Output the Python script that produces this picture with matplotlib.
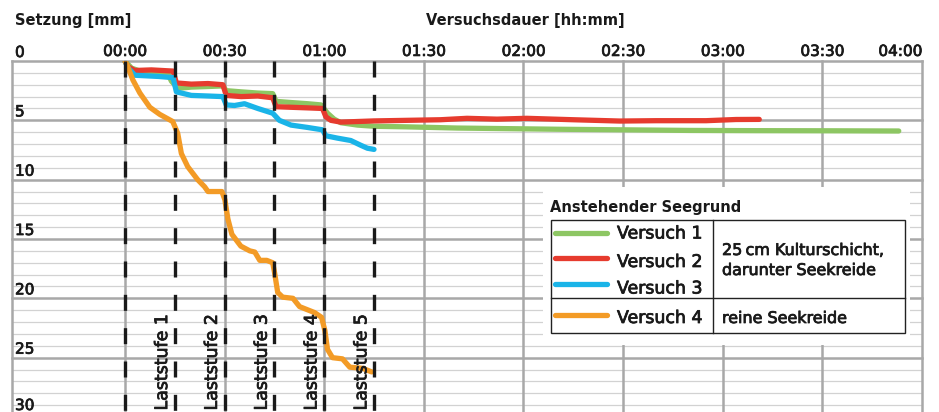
import matplotlib
matplotlib.use("Agg")
import matplotlib.pyplot as plt
import matplotlib.patheffects as pe
from matplotlib.patches import Rectangle

# ---------------- data (time in minutes, settlement in mm) ----------------
t1 = [0, 2, 5, 10, 13, 14, 16, 20, 25, 29.5, 30.5, 35, 40, 44.5, 45.5, 50, 55, 59, 61, 63,
      65, 70, 75, 85, 100, 115, 130, 150, 170, 190, 210, 233]
s1 = [0, 0.6, 0.9, 1.0, 1.1, 1.7, 2.3, 2.2, 2.15, 2.1, 2.5, 2.6, 2.7, 2.75, 3.4, 3.5, 3.6, 3.7, 4.4, 4.9,
      5.2, 5.4, 5.5, 5.55, 5.65, 5.7, 5.75, 5.8, 5.85, 5.87, 5.88, 5.9]

t2 = [0, 1, 3, 8, 14.5, 15.5, 20, 25, 29.5, 30.5, 35, 40, 44.5, 45.5, 50, 55, 59.5, 60.5, 62, 65,
      70, 75, 85, 95, 103, 112, 121, 135, 149, 160, 175, 184, 191]
s2 = [0, 0.5, 0.8, 0.75, 0.85, 1.85, 1.95, 1.9, 2.0, 2.9, 3.0, 2.95, 3.1, 3.85, 3.9, 3.95, 4.0, 4.7, 5.0, 5.15,
      5.1, 5.05, 5.0, 4.95, 4.83, 4.9, 4.83, 4.95, 5.06, 5.03, 5.03, 4.93, 4.92]

t3 = [0, 1, 3, 10, 14.5, 15.5, 20, 25, 29.5, 30.5, 33, 36, 40, 44.5, 46.5, 50, 55, 59.5, 60.5, 64,
      68, 71, 73, 75]
s3 = [0, 0.6, 1.2, 1.3, 1.4, 2.6, 2.9, 2.95, 3.0, 3.7, 3.75, 3.6, 4.0, 4.4, 5.0, 5.4, 5.6, 5.8, 6.3, 6.5,
      6.7, 7.1, 7.35, 7.45]

t4 = [0, 0.6, 2.4, 4.5, 7.5, 10.5, 14.4, 15.9, 17, 18.9, 21.9, 24, 25, 29.2, 30.1, 31, 32.2, 34.9, 37.6,
      39.1, 40.6, 42.7, 44.5, 45.1, 46, 47.5, 50.6, 52.6, 57.1, 59.2, 60.2, 61, 62.5, 65.5, 67.7, 71.6, 74.3]
s4 = [0, 0.3, 1.6, 2.7, 3.9, 4.5, 5.1, 6.1, 7.8, 8.9, 10.0, 10.6, 11.0, 11.0, 11.7, 13.3, 14.6, 15.6, 16.0,
      16.1, 16.8, 16.8, 17.0, 17.9, 19.5, 19.9, 20.0, 20.7, 21.2, 21.6, 22.7, 24.3, 25.0, 25.1, 25.8, 25.9, 26.2]

series_names = ["Versuch 1", "Versuch 2", "Versuch 3", "Versuch 4"]
series_colors = ["#8DC663", "#E63B2E", "#1AB4E8", "#F39B26"]

stage_times = [0, 15, 30, 45, 60, 75]
stage_labels = ["Laststufe 1", "Laststufe 2", "Laststufe 3", "Laststufe 4", "Laststufe 5"]

x_ticks = [0, 30, 60, 90, 120, 150, 180, 210, 240]
x_ticklabels = ["00:00", "00:30", "01:00", "01:30", "02:00", "02:30", "03:00", "03:30", "04:00"]
y_ticks = [0, 5, 10, 15, 20, 25, 30]

legend_title = "Anstehender Seegrund"
legend_desc1 = ["25\u2009cm Kulturschicht,", "darunter Seekreide"]
legend_desc2 = "reine Seekreide"

# ---------------- figure ----------------
W, H = 939, 412
TXT = "#1A1A1A"
plt.rcParams['font.family'] = ['DejaVu Sans']
medium = [pe.withStroke(linewidth=0.55, foreground=TXT)]

fig = plt.figure(figsize=(W / 100, H / 100), dpi=100)
ax = fig.add_axes([12 / W, (H - 61 - 356) / H, 910 / W, 356 / H])
ax.set_xlim(-34, 240)
ax.set_ylim(30, 0)
for sp in ax.spines.values():
    sp.set_visible(False)

major_c = "#A8A8A8"
minor_c = "#D2D2D2"
for v in range(0, 31):
    if v % 5 == 0:
        ax.axhline(v, color=major_c, lw=1.8, zorder=1, clip_on=False)
    else:
        ax.axhline(v, color=minor_c, lw=0.9, zorder=0.5)
for xv in x_ticks:
    ax.axvline(xv, color=major_c, lw=1.8, zorder=1, clip_on=False)
ax.axvline(-34, color=major_c, lw=1.8, zorder=1, clip_on=False)

# data lines
for t, s, c in zip([t1, t2, t3, t4], [s1, s2, s3, s4], series_colors):
    ax.plot(t, s, color=c, lw=3.8, solid_capstyle='round', solid_joinstyle='round', zorder=3)

# load stage dashed lines
for ts in stage_times:
    ax.plot([ts, ts], [0, 30], color=TXT, lw=2.4, linestyle=(0, (4.8, 5.2)),
            dash_capstyle='butt', zorder=5)

for i, lab in enumerate(stage_labels):
    ax.text(stage_times[i] + 11.2, 29.45, lab, rotation=90, ha='center', va='bottom',
            fontsize=12.5, color=TXT, zorder=6, path_effects=medium)

# x tick labels at top
ax.xaxis.tick_top()
ax.set_xticks(x_ticks)
ax.set_xticklabels(x_ticklabels)
ax.tick_params(axis='x', length=0, pad=1.5, labelsize=11, colors=TXT)
for lbl in ax.get_xticklabels():
    lbl.set_path_effects(medium)
ax.get_xticklabels()[-1].set_horizontalalignment('right')
ax.set_yticks([])

for v in y_ticks:
    off = 4 if v < 30 else 7
    ax.annotate(str(v), xy=(0, v), xycoords=('axes fraction', 'data'), xytext=(3, off),
                textcoords='offset pixels', ha='left', va='baseline', fontsize=11,
                color=TXT, annotation_clip=False, path_effects=medium)

fig.text(15 / W, 1 - 20 / H, "Setzung [mm]", fontsize=10.5, fontweight='bold', ha='left',
         va='center', color=TXT)
fig.text(525 / W, 1 - 20 / H, "Versuchsdauer [hh:mm]", fontsize=10.5, fontweight='bold',
         ha='center', va='center', color=TXT)

# ---------------- legend (drawn as a small table) ----------------
lx0, ly0, lx1, ly1 = 543, 187, 910, 345
lax = fig.add_axes([lx0 / W, 1 - ly1 / H, (lx1 - lx0) / W, (ly1 - ly0) / H])
lax.set_xlim(0, lx1 - lx0)
lax.set_ylim(ly1 - ly0, 0)
lax.set_xticks([])
lax.set_yticks([])
for sp in lax.spines.values():
    sp.set_visible(False)
lax.set_facecolor("white")

lax.text(7, 25, legend_title, fontsize=10.5, fontweight='bold', va='baseline', ha='left', color=TXT)
lax.add_patch(Rectangle((8, 33), 354, 113, fill=False, lw=1.0, ec="#222222"))
lax.plot([170, 170], [33, 146], color="#222222", lw=1.0)
lax.plot([8, 362], [111, 111], color="#222222", lw=1.0)

line_y = [46, 71, 97, 128]
text_y = [51.5, 80, 106.5, 136]
for name, c, ly, ty in zip(series_names, series_colors, line_y, text_y):
    lax.plot([12, 64], [ly, ly], color=c, lw=3.8, solid_capstyle='round')
    lax.text(74, ty, name, fontsize=12.5, va='baseline', ha='left', color=TXT, path_effects=medium)

lax.text(179, 68, legend_desc1[0], fontsize=11.5, va='baseline', ha='left', color=TXT, path_effects=medium)
lax.text(179, 88, legend_desc1[1], fontsize=11.5, va='baseline', ha='left', color=TXT, path_effects=medium)
lax.text(179, 136, legend_desc2, fontsize=11.5, va='baseline', ha='left', color=TXT, path_effects=medium)

fig.savefig("out.png", dpi=100, facecolor="white")
